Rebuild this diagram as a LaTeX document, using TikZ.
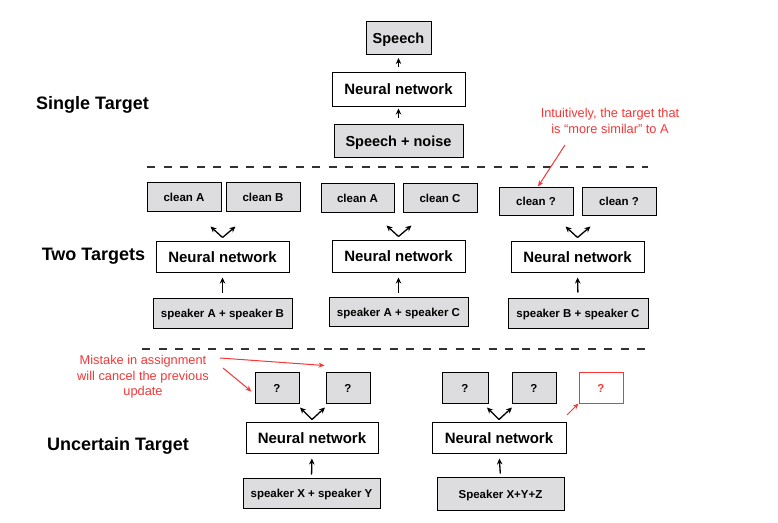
\documentclass[tikz,border=0pt]{standalone}
\usepackage{fontspec}
\setmainfont{Liberation Sans}
\usetikzlibrary{arrows.meta}
\definecolor{boxgray}{RGB}{221,221,223}
\definecolor{annred}{RGB}{245,55,55}
\definecolor{dashgray}{RGB}{50,50,50}
\tikzset{
  gbox/.style={draw=black, line width=1pt, fill=boxgray, inner sep=0pt, text height=9pt, text depth=0pt, font=\bfseries\fontsize{11.5}{13}\selectfont},
  bigbox/.style={draw=black, line width=1pt, fill=boxgray, inner sep=0pt, text height=11.3pt, text depth=0pt, font=\bfseries\fontsize{14.5}{17}\selectfont},
  nnbox/.style={draw=black, line width=1pt, fill=white, inner sep=0pt, text height=11.6pt, text depth=0pt, minimum width=133pt, minimum height=31pt, font=\bfseries\fontsize{15}{17}\selectfont},
  redbox/.style={draw=annred, line width=1pt, fill=white, text=annred, inner sep=0pt, text height=9pt, text depth=0pt, font=\bfseries\fontsize{11.5}{13}\selectfont},
  seclabel/.style={inner sep=0pt, font=\bfseries\fontsize{18}{21}\selectfont},
  anntext/.style={inner sep=0pt, text=annred, align=center, font=\fontsize{12.8}{15.5}\selectfont},
  arr/.style={draw=black, line width=1.3pt, -{Stealth[length=6pt,width=5.5pt]}},
  redarr/.style={draw=annred, line width=1pt, -{Stealth[length=6pt,width=5pt]}},
  sepline/.style={draw=dashgray, line width=1.5pt, dash pattern=on 8pt off 8.5pt},
}
\begin{document}
\begin{tikzpicture}[x=1pt,y=-1pt]
\useasboundingbox (0,0) rectangle (778,522);

% ---------- Single target ----------
\node[seclabel] (lab1) at (92.5,105) {Single Target};
\node[bigbox, minimum width=65pt, minimum height=33pt] (speech) at (398.5,38) {Speech};
\node[nnbox, minimum height=34pt] (nn0) at (398.5,89) {Neural network};
\node[bigbox, minimum width=129pt, minimum height=33pt] (sn) at (398.5,140.5) {Speech + noise};
\draw[arr, shorten <=5pt, shorten >=3pt] (nn0.north) -- (speech.south);
\draw[arr, shorten <=6pt, shorten >=2pt] (sn.north) -- (nn0.south);

\coordinate (d1a) at (147,167);
\coordinate (d1b) at (648,167);
\draw[sepline] (d1a) -- (d1b);

% ---------- Two targets ----------
\node[seclabel] (lab2) at (93.5,256) {Two Targets};

% group 1
\node[gbox, minimum width=74pt, minimum height=29pt] (cA1) at (184,197) {clean A};
\node[gbox, minimum width=74pt, minimum height=29pt] (cB1) at (263,197) {clean B};
\node[nnbox] (nn1) at (222.5,256.5) {Neural network};
\node[gbox, minimum width=139pt, minimum height=30pt] (sAB) at (222.5,313) {speaker A + speaker B};
\coordinate (v1) at ([yshift=3pt]nn1.north);
\draw[arr] (v1) -- ++(-12,-11);
\draw[arr] (v1) -- ++(13,-11);
\draw[arr, shorten <=5pt, shorten >=5pt] (sAB.north) -- (nn1.south);

% group 2
\node[gbox, minimum width=73pt, minimum height=29pt] (cA2) at (357.5,197.5) {clean A};
\node[gbox, minimum width=74pt, minimum height=29pt] (cC2) at (440,197.5) {clean C};
\node[nnbox, minimum height=32pt] (nn2) at (398.5,256) {Neural network};
\node[gbox, minimum width=139pt, minimum height=29pt] (sAC) at (398.5,311.5) {speaker A + speaker C};
\coordinate (v2) at ([yshift=3pt]nn2.north);
\draw[arr] (v2) -- ++(-12,-11);
\draw[arr] (v2) -- ++(13,-11);
\draw[arr, shorten <=4pt, shorten >=5pt] (sAC.north) -- (nn2.south);

% group 3
\node[gbox, minimum width=74pt, minimum height=28pt] (cq1) at (536,201) {clean ?};
\node[gbox, minimum width=74pt, minimum height=28pt] (cq2) at (619,201) {clean ?};
\node[nnbox] (nn3) at (577.5,256.5) {Neural network};
\node[gbox, minimum width=140pt, minimum height=30pt] (sBC) at (578,313) {speaker B + speaker C};
\coordinate (v3) at ([yshift=3pt]nn3.north);
\draw[arr] (v3) -- ++(-12,-11);
\draw[arr] (v3) -- ++(13,-11);
\draw[arr, shorten <=5pt, shorten >=5pt] (sBC.north) -- (nn3.south);

\node[anntext] (ann1) at (610,121) {Intuitively, the target that\\is “more similar” to A};
\coordinate (a1s) at (565,145);
\draw[redarr] (a1s) -- ([xshift=2pt]cq1.north);

\coordinate (d2a) at (142,349);
\coordinate (d2b) at (648,349);
\draw[sepline] (d2a) -- (d2b);

% ---------- Uncertain target ----------
\node[seclabel] (lab3) at (118,446) {Uncertain Target};

% group 4
\node[gbox, minimum width=44pt, minimum height=31pt] (q1) at (277,387.5) {?};
\node[gbox, minimum width=44pt, minimum height=31pt] (q2) at (348,387.5) {?};
\node[nnbox, minimum width=132pt] (nn4) at (312,437.5) {Neural network};
\node[gbox, minimum width=137pt, minimum height=30pt] (sXY) at (311.5,493) {speaker X + speaker Y};
\coordinate (v4) at ([yshift=2pt]nn4.north);
\draw[arr] (v4) -- ++(-12,-12);
\draw[arr] (v4) -- ++(13,-12);
\draw[arr, shorten <=3pt, shorten >=5pt] (sXY.north) -- (nn4.south);

\node[anntext] (ann2) at (143,377) {Mistake in assignment\\will cancel the previous\\update};
\coordinate (a2s) at (220,358);
\coordinate (a3s) at (223,368);
\draw[redarr] (a2s) -- ([xshift=-1pt,yshift=6pt]q2.north west);
\draw[redarr] (a3s) -- ([xshift=-3pt,yshift=-4pt]q1.west);

% group 5
\node[gbox, minimum width=46pt, minimum height=31pt] (q3) at (465,387.5) {?};
\node[gbox, minimum width=44pt, minimum height=31pt] (q4) at (534,387.5) {?};
\node[redbox, minimum width=44pt, minimum height=31pt] (q5) at (601,387.5) {?};
\node[nnbox, minimum width=134pt] (nn5) at (499,437.5) {Neural network};
\node[gbox, minimum width=127pt, minimum height=33pt] (sXYZ) at (500.5,493.5) {Speaker X+Y+Z};
\coordinate (v5) at ([yshift=2pt]nn5.north);
\draw[arr] (v5) -- ++(-12,-12);
\draw[arr] (v5) -- ++(13,-12);
\draw[arr, shorten <=3pt, shorten >=5pt] (sXYZ.north) -- (nn5.south);
\coordinate (a4s) at (567,415);
\draw[redarr] (a4s) -- (q5.south west);
\end{tikzpicture}
\end{document}
